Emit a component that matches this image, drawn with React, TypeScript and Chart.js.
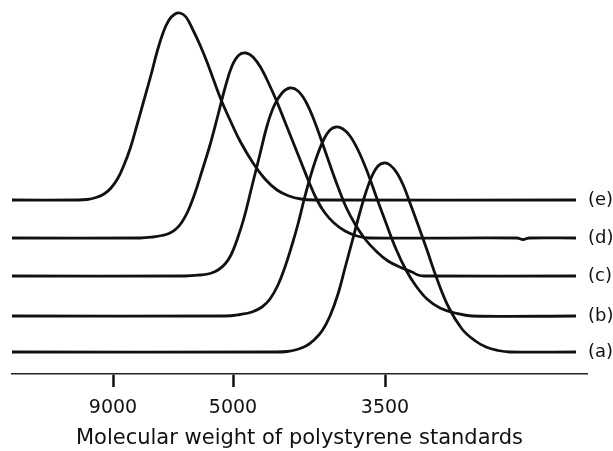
import React, { useEffect, useRef } from "react";
import { Chart, registerables } from "chart.js";

Chart.register(...registerables);

// Series labels (bottom to top) and vertical offsets of each trace (arbitrary detector units)
const seriesLabels = ["(a)", "(b)", "(c)", "(d)", "(e)"];
const baselineOffsets = [22, 58, 98, 136, 174];

// Elution position (arbitrary units) and detector response relative to each baseline
const elutionA = [0, 263, 275, 285, 294, 302, 310, 318, 326, 333, 340, 348, 354, 360, 366, 372, 378, 385, 392, 398, 405, 415, 425, 437, 450, 462, 474, 486, 498, 564];
const responseA = [0, 0, 0.5, 2.5, 6, 12, 21, 36, 58, 84, 110, 140, 160, 176, 186, 189, 187, 179, 165, 149, 130, 102, 73, 44, 23, 12, 5, 1.5, 0, 0];

const elutionB = [0, 213, 228, 240, 250, 258, 266, 273, 280, 286, 292, 298, 305, 312, 318, 324, 331, 338, 346, 355, 364, 374, 384, 394, 404, 415, 428, 443, 460, 564];
const responseB = [0, 0, 1.5, 4, 9, 17, 31, 49, 71, 92, 116, 138, 160, 177, 186, 189, 187, 180, 166, 145, 120, 93, 67, 46, 30, 17, 8, 3, 0, 0];

const elutionC = [0, 173, 188, 198, 206, 213, 219, 225, 232, 240, 248, 255, 262, 270, 278, 286, 294, 302, 310, 318, 326, 334, 343, 353, 364, 376, 390, 400, 406, 412, 564];
const responseC = [0, 0, 1, 2.5, 6, 12, 21, 36, 58, 90, 122, 150, 170, 183, 188, 185, 174, 156, 134, 111, 89, 69, 52, 37, 25, 15, 8, 4, 1, 0, 0];

const elutionD = [0, 128, 141, 150, 158, 164, 170, 176, 183, 190, 198, 206, 213, 220, 227, 234, 241, 249, 257, 265, 273, 281, 289, 297, 305, 313, 322, 333, 345, 357, 505, 511, 517, 564];
const responseD = [0, 0, 1, 2.5, 5, 9, 16, 27, 45, 67, 93, 123, 150, 172, 183, 185, 181, 170, 154, 136, 116, 96, 76, 56, 38, 25, 15, 7, 2, 0, 0, -1.5, 0, 0];

const elutionE = [0, 65, 75, 84, 92, 99, 106, 112, 118, 125, 132, 139, 145, 151, 157, 163, 168, 174, 181, 188, 195, 202, 210, 218, 228, 241, 253, 265, 277, 289, 302, 564];
const responseE = [0, 0, 0.5, 2.5, 6, 12, 22, 35, 51, 75, 100, 125, 148, 167, 180, 186, 187, 183, 170, 155, 138, 119, 98, 80, 59, 37, 21, 10, 4, 1, 0, 0];

// Molecular weight calibration ticks on the elution axis
const mwTickLabels = ["9000", "5000", "3500"];
const mwTickPositions = [101, 221, 373];
const axisTitle = "Molecular weight of polystyrene standards";

const elutions = [elutionA, elutionB, elutionC, elutionD, elutionE];
const responses = [responseA, responseB, responseC, responseD, responseE];

const FONT = "'DejaVu Sans', 'Liberation Sans', Arial, sans-serif";

const seriesLabelPlugin = {
  id: "seriesLabels",
  afterDatasetsDraw(chart: any) {
    const { ctx, chartArea, scales } = chart;
    ctx.save();
    ctx.fillStyle = "#111";
    ctx.font = `18px ${FONT}`;
    ctx.textAlign = "left";
    ctx.textBaseline = "middle";
    seriesLabels.forEach((lab, i) => {
      const y = scales.y.getPixelForValue(baselineOffsets[i]);
      ctx.fillText(lab, chartArea.right + 1, y);
    });
    ctx.restore();
  },
};

export default function App() {
  const canvasRef = useRef<HTMLCanvasElement | null>(null);

  useEffect(() => {
    document.body.style.margin = "0";
    const canvas = canvasRef.current;
    if (!canvas) return;
    const datasets = elutions.map((xs, i) => ({
      label: seriesLabels[i],
      data: xs.map((x, j) => ({ x, y: baselineOffsets[i] + responses[i][j] })),
      borderColor: "#111",
      borderWidth: 2.8,
      pointRadius: 0,
      fill: false,
      tension: 0.4,
    }));

    const chart = new Chart(canvas, {
      type: "line",
      data: { datasets },
      options: {
        animation: false,
        responsive: true,
        maintainAspectRatio: false,
        layout: { padding: { left: 12, right: 26, top: 4, bottom: 0 } },
        plugins: { legend: { display: false }, tooltip: { enabled: false } },
        scales: {
          x: {
            type: "linear",
            min: 0,
            max: 575,
            afterBuildTicks: (axis: any) => {
              axis.ticks = mwTickPositions.map((v) => ({ value: v }));
            },
            afterFit: (axis: any) => {
              axis.height = 77;
            },
            grid: {
              drawOnChartArea: false,
              drawTicks: true,
              tickLength: 13,
              tickWidth: 2.5,
              color: "#111",
            },
            border: { display: true, color: "#222", width: 1.6 },
            ticks: {
              padding: 10,
              color: "#111",
              font: { family: FONT, size: 19 },
              maxRotation: 0,
              autoSkip: false,
              callback: (_v: any, idx: number) => mwTickLabels[idx],
            },
            title: {
              display: true,
              text: axisTitle,
              color: "#111",
              font: { family: FONT, size: 21 },
              padding: { top: 0, bottom: 0 },
            },
          },
          y: {
            type: "linear",
            min: 0,
            max: 370,
            display: false,
          },
        },
      },
      plugins: [seriesLabelPlugin],
    });
    return () => chart.destroy();
  }, []);

  return (
    <div style={{ position: "fixed", left: 0, top: 0, width: 613, height: 451, background: "#fff" }}>
      <canvas ref={canvasRef} />
    </div>
  );
}
